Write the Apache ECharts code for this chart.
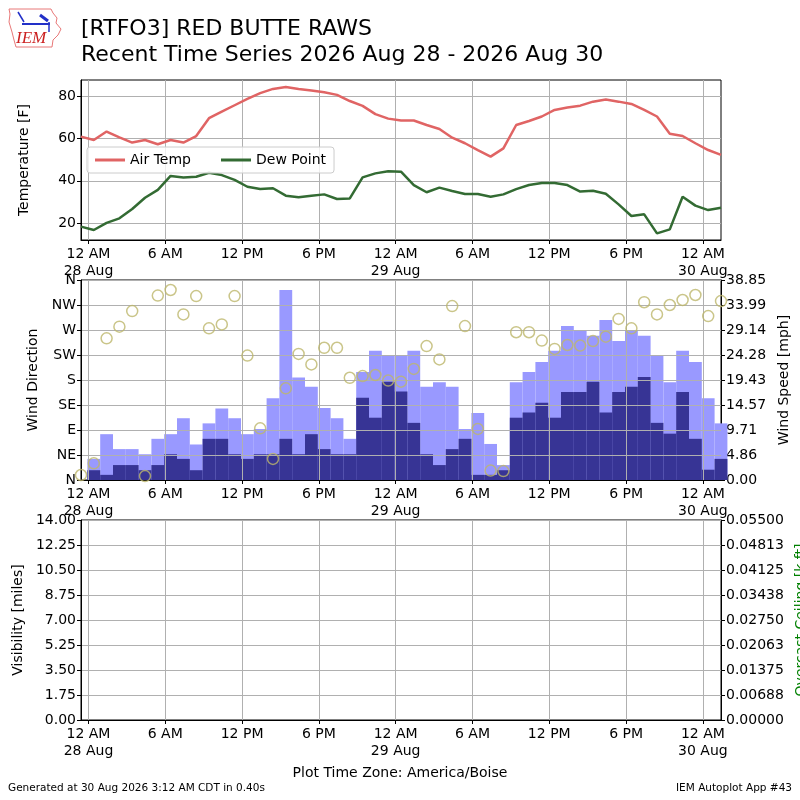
<!DOCTYPE html>
<html>
<head>
<meta charset="utf-8">
<script src="https://cdn.jsdelivr.net/npm/echarts@6/dist/echarts.min.js"></script>
<style>
html,body{margin:0;padding:0;background:#fff;}
#chart{width:800px;height:800px;}
</style>
</head>
<body>
<div id="chart"></div>
<script>
// ---------------- DATA ----------------
// time of the first hourly observation, in hours relative to 2026-08-28 00:00 (America/Boise): 27 Aug 23:25
const obsStartHour = -35 / 60;
const airTemp = [60.8,59.2,63.2,60.5,58.0,59.2,57.2,59.2,58.0,61.1,69.5,72.6,75.6,78.6,81.3,83.3,84.2,83.3,82.5,81.7,80.5,77.6,75.3,71.4,69.3,68.4,68.4,66.3,64.4,60.3,57.7,54.5,51.4,55.3,66.3,68.2,70.3,73.4,74.5,75.4,77.3,78.3,77.3,76.2,73.4,70.3,62.2,61.1,57.7,54.5,52.2];
const dewPoint = [18.4,16.8,20.2,22.3,26.7,32.0,35.7,42.3,41.6,41.9,43.8,42.7,40.4,37.2,36.1,36.5,33.0,32.2,33.0,33.6,31.4,31.7,41.6,43.5,44.5,44.3,38.0,34.6,36.8,35.2,33.8,33.8,32.5,33.6,36.1,38.0,39.0,39.0,38.0,34.9,35.3,33.9,28.9,23.4,24.2,15.2,17.1,32.5,28.3,26.2,27.3];
const windDir = [9,30,255,276,304,7,332,342,298,331,273,280,331,224,93,38,165,227,208,238,238,184,187,189,179,177,200,241,217,313,277,92,17,16,266,266,251,236,243,242,250,258,290,273,320,298,315,324,333,295,322];
const windGust = [0,4.1,8.9,6.0,6.0,5.0,8.0,8.9,12.0,6.9,11.0,13.9,12.0,8.9,9.9,15.9,36.9,19.9,18.1,14.0,12.0,8.0,21.0,25.1,24.2,24.2,25.1,18.1,19.0,18.1,9.9,13.0,7.0,2.9,19.0,21.0,22.9,25.1,29.9,29.0,28.0,31.1,27.0,29.0,28.0,24.2,19.0,25.1,22.9,15.9,11.0];
const windSpeed = [0,1.9,1.0,2.9,2.9,1.9,2.9,5.0,4.1,1.9,8.0,8.0,5.0,4.1,5.0,5.0,8.0,5.0,8.9,6.0,5.0,5.0,16.0,12.1,19.1,17.2,11.1,5.0,2.9,6.0,8.0,1.0,1.0,1.9,12.1,13.1,15.0,12.1,17.1,17.1,19.1,13.1,17.1,18.1,20.0,11.1,9.0,17.1,8.0,2.0,4.1];
const xTickLabels = ['12 AM\n28 Aug','6 AM','12 PM','6 PM','12 AM\n29 Aug','6 AM','12 PM','6 PM','12 AM\n30 Aug'];
const dirTickLabels = ['N','NE','E','SE','S','SW','W','NW','N'];
const speedTickLabels = ['0.00','4.86','9.71','14.57','19.43','24.28','29.14','33.99','38.85'];
const visTickLabels = ['0.00','1.75','3.50','5.25','7.00','8.75','10.50','12.25','14.00'];
const ceilTickLabels = ['0.00000','0.00688','0.01375','0.02063','0.02750','0.03438','0.04125','0.04813','0.05500'];
const tempTicks = [20,40,60,80];

// ---------------- BUILD ----------------
const times = airTemp.map((_, i) => obsStartHour + i);
const xTicks = xTickLabels.map((_, k) => k * 6);
const speedMax = 38.85, ceilMax = 0.055, visMax = 14;
const speedTicks = speedTickLabels.map((_, k) => k * speedMax / 8);
const ceilTicks = ceilTickLabels.map((_, k) => k * ceilMax / 8);
const visTicks = visTickLabels.map((_, k) => k * visMax / 8);
const pair = arr => arr.map((v, i) => [times[i], v]);

const FONT = 'DejaVu Sans';
const GRID_COLOR = '#b0b0b0';

function xAxis(gridIndex, z) {
  return {
    type: 'value', gridIndex, min: times[0], max: times[times.length - 1], z: z || 0,
    axisLine: { show: true, onZero: false, lineStyle: { color: '#000', width: 1 } },
    axisTick: { show: true, inside: false, length: 4, customValues: xTicks, lineStyle: { color: '#000' } },
    axisLabel: {
      customValues: xTicks, margin: 6, color: '#000', fontFamily: FONT, fontSize: 14, lineHeight: 17,
      hideOverlap: false,
      formatter: v => xTickLabels[Math.round(v / 6)]
    },
    splitLine: { show: true, lineStyle: { color: GRID_COLOR, width: 1 } }
  };
}
function yBase(extra) {
  return Object.assign({
    type: 'value',
    axisLine: { show: true, onZero: false, lineStyle: { color: '#000', width: 1 } },
    axisTick: { show: true, inside: false, length: 4, lineStyle: { color: '#000' } },
    axisLabel: { color: '#000', fontFamily: FONT, fontSize: 14, margin: 5 },
    nameLocation: 'middle', nameRotate: 90,
    nameTextStyle: { color: '#000', fontFamily: FONT, fontSize: 14 }
  }, extra);
}

const gridBox = { show: true, borderColor: '#000', borderWidth: 1, backgroundColor: 'transparent',
  left: 81, width: 640, containLabel: false, outerBoundsMode: 'none' };

const option = {
  animation: false,
  backgroundColor: '#fff',
  textStyle: { fontFamily: FONT },
  grid: [
    Object.assign({}, gridBox, { top: 80, height: 160 }),
    Object.assign({}, gridBox, { top: 280, height: 200 }),
    Object.assign({}, gridBox, { top: 520, height: 200 })
  ],
  xAxis: [xAxis(0), xAxis(1, 3), xAxis(2)],
  yAxis: [
    yBase({
      gridIndex: 0, min: 12.1, max: 87.5, name: 'Temperature [F]', nameGap: 50,
      axisTick: { show: true, length: 4, customValues: tempTicks, lineStyle: { color: '#000' } },
      axisLabel: { customValues: tempTicks, color: '#000', fontFamily: FONT, fontSize: 14, margin: 5 },
      splitLine: { show: true, lineStyle: { color: GRID_COLOR } }
    }),
    yBase({
      gridIndex: 1, min: 0, max: 360, interval: 45, name: 'Wind Direction', nameGap: 36, z: 3,
      axisLabel: { color: '#000', fontFamily: FONT, fontSize: 14, margin: 5, formatter: v => dirTickLabels[Math.round(v / 45)] },
      splitLine: { show: true, lineStyle: { color: GRID_COLOR } }
    }),
    yBase({
      gridIndex: 1, position: 'right', min: 0, max: speedMax, name: 'Wind Speed [mph]', nameGap: 48,
      axisTick: { show: true, length: 4, customValues: speedTicks, lineStyle: { color: '#000' } },
      axisLabel: { customValues: speedTicks, color: '#000', fontFamily: FONT, fontSize: 14, margin: 5,
        formatter: v => speedTickLabels[Math.round(v / speedMax * 8)] },
      splitLine: { show: false }
    }),
    yBase({
      gridIndex: 2, min: 0, max: visMax, name: 'Visibility [miles]', nameGap: 52,
      axisTick: { show: true, length: 4, customValues: visTicks, lineStyle: { color: '#000' } },
      axisLabel: { customValues: visTicks, color: '#000', fontFamily: FONT, fontSize: 14, margin: 5,
        formatter: v => visTickLabels[Math.round(v / visMax * 8)] },
      splitLine: { show: true, lineStyle: { color: GRID_COLOR } }
    }),
    yBase({
      gridIndex: 2, position: 'right', min: 0, max: ceilMax, name: 'Overcast Ceiling [k ft]', nameGap: 68,
      nameTextStyle: { color: '#008000', fontFamily: FONT, fontSize: 14 },
      axisTick: { show: true, length: 4, customValues: ceilTicks, lineStyle: { color: '#000' } },
      axisLabel: { customValues: ceilTicks, color: '#000', fontFamily: FONT, fontSize: 14, margin: 5,
        formatter: v => ceilTickLabels[Math.round(v / ceilMax * 8)] },
      splitLine: { show: false }
    })
  ],
  legend: {
    left: 87, top: 147, orient: 'horizontal',
    data: ['Air Temp', 'Dew Point'],
    icon: 'rect', itemWidth: 30, itemHeight: 3, itemGap: 30,
    padding: [6, 8], borderColor: '#cccccc', borderWidth: 1, borderRadius: 3,
    backgroundColor: 'rgba(255,255,255,0.8)',
    textStyle: { color: '#000', fontFamily: FONT, fontSize: 14 },
    z: 20
  },
  series: [
    { name: 'Air Temp', type: 'line', xAxisIndex: 0, yAxisIndex: 0, data: pair(airTemp),
      showSymbol: false, color: '#e06464', lineStyle: { width: 2.5, color: '#e06464' } },
    { name: 'Dew Point', type: 'line', xAxisIndex: 0, yAxisIndex: 0, data: pair(dewPoint),
      showSymbol: false, color: '#336b33', lineStyle: { width: 2.5, color: '#336b33' } },
    { name: 'Gust', type: 'bar', xAxisIndex: 1, yAxisIndex: 2, data: pair(windGust),
      barWidth: '100%', barGap: '-100%', itemStyle: { color: '#9999ff' }, z: 1 },
    { name: 'Speed', type: 'bar', xAxisIndex: 1, yAxisIndex: 2, data: pair(windSpeed),
      barWidth: '100%', barGap: '-100%', itemStyle: { color: '#373495' }, z: 2 },
    { name: 'Direction', type: 'scatter', xAxisIndex: 1, yAxisIndex: 1, data: pair(windDir),
      symbol: 'circle', symbolSize: 11, z: 10,
      itemStyle: { color: 'rgba(0,0,0,0)', borderColor: '#bdb76b', borderWidth: 1.5 } },
    { name: 'Visibility', type: 'line', xAxisIndex: 2, yAxisIndex: 3, data: [] }
  ],
  graphic: [
    { type: 'polyline', z: 50, shape: { points: [[9,9],[51,9],[53,13],[57,18],[56,23],[61,29],[58,35],[53,40],[52,47],[16,47],[14,40],[12,32],[9,22],[10,14],[9,9]] },
      style: { stroke: '#e87878', lineWidth: 1, fill: null } },
    { type: 'line', z: 50, shape: { x1: 22, y1: 24, x2: 50, y2: 24 }, style: { stroke: '#2230c8', lineWidth: 2 } },
    { type: 'line', z: 50, shape: { x1: 18, y1: 12, x2: 24, y2: 22 }, style: { stroke: '#2230c8', lineWidth: 1.5 } },
    { type: 'line', z: 50, shape: { x1: 40, y1: 15, x2: 48, y2: 21 }, style: { stroke: '#2230c8', lineWidth: 3 } },
    { type: 'line', z: 50, shape: { x1: 49, y1: 22, x2: 49, y2: 32 }, style: { stroke: '#2230c8', lineWidth: 1.5 } },
    { type: 'text', z: 50, left: 16, top: 30, style: { text: 'IEM', fill: '#cc2020', font: 'italic 17px "Liberation Serif", serif' } },
    { type: 'text', left: 81, top: 18, style: { text: '[RTFO3] RED BUTTE RAWS', fill: '#000', font: '22px "DejaVu Sans"' } },
    { type: 'text', left: 81, top: 44, style: { text: 'Recent Time Series 2026 Aug 28 - 2026 Aug 30', fill: '#000', font: '22px "DejaVu Sans"' } },
    { type: 'text', left: 'center', top: 766, style: { text: 'Plot Time Zone: America/Boise', fill: '#000', font: '14px "DejaVu Sans"' } },
    { type: 'text', left: 8, top: 783, style: { text: 'Generated at 30 Aug 2026 3:12 AM CDT in 0.40s', fill: '#000', font: '10.5px "DejaVu Sans"' } },
    { type: 'text', right: 8, top: 783, style: { text: 'IEM Autoplot App #43', fill: '#000', font: '10.5px "DejaVu Sans"' } }
  ]
};

const chart = echarts.init(document.getElementById('chart'), null, { renderer: 'canvas' });
chart.setOption(option);
</script>
</body>
</html>
